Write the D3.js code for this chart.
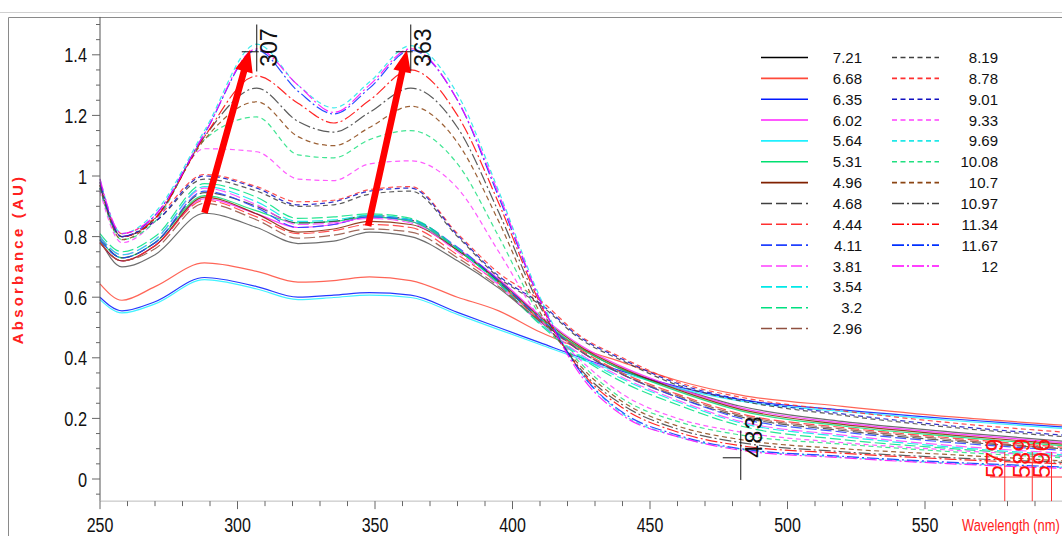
<!DOCTYPE html>
<html><head><meta charset="utf-8">
<script src="https://cdn.jsdelivr.net/npm/d3@7/dist/d3.min.js"></script>
<style>body{margin:0;background:#fff;overflow:hidden} svg{display:block}</style>
</head><body><svg id="c" width="1062" height="536"></svg>
<script>
// ---------- data ----------
const wavelengths = [250, 258, 270, 288, 307, 322, 335, 348, 363, 380, 395, 410, 425, 440, 460, 483, 520, 560, 600];

// acid / neutral side (solid)
const ph721 = [0.79, 0.70, 0.74, 0.877, 0.83, 0.777, 0.785, 0.815, 0.80, 0.72, 0.63, 0.52, 0.43, 0.36, 0.30, 0.24, 0.19, 0.155, 0.125];
const ph668 = [0.644, 0.59, 0.635, 0.713, 0.685, 0.65, 0.655, 0.667, 0.655, 0.60, 0.555, 0.485, 0.43, 0.385, 0.325, 0.277, 0.24, 0.205, 0.178];
const ph635 = [0.60, 0.555, 0.585, 0.665, 0.635, 0.60, 0.607, 0.615, 0.607, 0.55, 0.50, 0.45, 0.40, 0.355, 0.305, 0.262, 0.228, 0.198, 0.172];
const ph602 = [0.78, 0.72, 0.77, 0.925, 0.875, 0.83, 0.84, 0.865, 0.85, 0.76, 0.66, 0.54, 0.44, 0.37, 0.30, 0.235, 0.185, 0.15, 0.12];
const ph564 = [0.592, 0.548, 0.578, 0.658, 0.627, 0.592, 0.599, 0.607, 0.599, 0.543, 0.493, 0.444, 0.395, 0.35, 0.30, 0.257, 0.223, 0.193, 0.167];
const ph531 = [0.79, 0.73, 0.78, 0.935, 0.885, 0.845, 0.85, 0.865, 0.85, 0.755, 0.65, 0.53, 0.43, 0.36, 0.29, 0.225, 0.175, 0.14, 0.11];
const ph496 = [0.78, 0.72, 0.77, 0.93, 0.875, 0.815, 0.825, 0.85, 0.84, 0.755, 0.655, 0.535, 0.435, 0.365, 0.295, 0.23, 0.18, 0.145, 0.115];
// long dashed
const ph468 = [0.80, 0.73, 0.78, 0.945, 0.90, 0.845, 0.85, 0.87, 0.855, 0.76, 0.65, 0.525, 0.42, 0.345, 0.27, 0.205, 0.16, 0.125, 0.10];
const ph444 = [0.78, 0.72, 0.77, 0.92, 0.865, 0.81, 0.82, 0.84, 0.83, 0.74, 0.645, 0.525, 0.425, 0.35, 0.28, 0.215, 0.17, 0.135, 0.105];
const ph411 = [0.79, 0.73, 0.78, 0.95, 0.895, 0.83, 0.84, 0.865, 0.855, 0.765, 0.655, 0.53, 0.42, 0.345, 0.27, 0.20, 0.155, 0.12, 0.095];
const ph381 = [0.80, 0.74, 0.79, 0.96, 0.905, 0.84, 0.845, 0.86, 0.845, 0.75, 0.64, 0.515, 0.41, 0.335, 0.26, 0.19, 0.145, 0.11, 0.085];
const ph354 = [0.80, 0.74, 0.79, 0.965, 0.915, 0.85, 0.855, 0.87, 0.855, 0.76, 0.645, 0.515, 0.405, 0.33, 0.255, 0.185, 0.14, 0.105, 0.08];
const ph320 = [0.81, 0.75, 0.80, 0.975, 0.93, 0.86, 0.865, 0.875, 0.86, 0.76, 0.645, 0.51, 0.40, 0.32, 0.245, 0.175, 0.13, 0.10, 0.075];
const ph296 = [0.78, 0.72, 0.76, 0.91, 0.855, 0.795, 0.805, 0.825, 0.815, 0.73, 0.635, 0.52, 0.42, 0.345, 0.275, 0.21, 0.165, 0.13, 0.10];
// basic side (short dashed)
const ph819 = [0.96, 0.80, 0.85, 0.99, 0.95, 0.90, 0.905, 0.94, 0.95, 0.80, 0.665, 0.575, 0.46, 0.39, 0.31, 0.258, 0.21, 0.17, 0.14];
const ph878 = [0.97, 0.81, 0.86, 1.005, 0.965, 0.915, 0.92, 0.955, 0.965, 0.81, 0.68, 0.59, 0.47, 0.40, 0.32, 0.27, 0.225, 0.185, 0.155];
const ph901 = [0.96, 0.80, 0.85, 1.0, 0.96, 0.905, 0.915, 0.95, 0.96, 0.805, 0.67, 0.58, 0.465, 0.395, 0.315, 0.263, 0.215, 0.175, 0.145];
const ph933 = [0.95, 0.78, 0.85, 1.09, 1.08, 0.99, 0.985, 1.04, 1.05, 0.96, 0.75, 0.53, 0.39, 0.28, 0.20, 0.155, 0.12, 0.095, 0.075];
const ph969 = [0.99, 0.81, 0.88, 1.15, 1.435, 1.30, 1.225, 1.31, 1.43, 1.27, 0.95, 0.60, 0.35, 0.215, 0.14, 0.098, 0.072, 0.052, 0.038];
const ph1008 = [0.96, 0.79, 0.85, 1.12, 1.195, 1.07, 1.06, 1.12, 1.15, 1.04, 0.80, 0.54, 0.38, 0.265, 0.19, 0.145, 0.115, 0.09, 0.07];
const ph1070 = [0.97, 0.79, 0.86, 1.12, 1.245, 1.13, 1.10, 1.16, 1.23, 1.11, 0.85, 0.55, 0.37, 0.255, 0.175, 0.13, 0.10, 0.08, 0.06];
// dash-dot
const ph1097 = [0.97, 0.80, 0.86, 1.13, 1.29, 1.18, 1.145, 1.21, 1.29, 1.16, 0.88, 0.57, 0.36, 0.245, 0.165, 0.12, 0.09, 0.07, 0.055];
const ph1134 = [0.98, 0.80, 0.86, 1.13, 1.33, 1.24, 1.175, 1.25, 1.35, 1.20, 0.91, 0.58, 0.355, 0.235, 0.155, 0.11, 0.085, 0.065, 0.05];
const ph1167 = [0.98, 0.80, 0.87, 1.14, 1.415, 1.28, 1.205, 1.29, 1.415, 1.25, 0.93, 0.59, 0.35, 0.22, 0.145, 0.10, 0.075, 0.055, 0.04];
const ph1200 = [0.99, 0.81, 0.87, 1.14, 1.42, 1.30, 1.21, 1.30, 1.42, 1.25, 0.94, 0.59, 0.34, 0.21, 0.14, 0.095, 0.07, 0.05, 0.035];

const legendCol1 = ["7.21","6.68","6.35","6.02","5.64","5.31","4.96","4.68","4.44","4.11","3.81","3.54","3.2","2.96"];
const legendCol2 = ["8.19","8.78","9.01","9.33","9.69","10.08","10.7","10.97","11.34","11.67","12"];
const valuesCol1 = [ph721, ph668, ph635, ph602, ph564, ph531, ph496, ph468, ph444, ph411, ph381, ph354, ph320, ph296];
const valuesCol2 = [ph819, ph878, ph901, ph933, ph969, ph1008, ph1070, ph1097, ph1134, ph1167, ph1200];

const colorsCol1 = ["#000000","#ff4a3a","#0018ff","#ff20ff","#20f0ff","#00e070","#802000",
                    "#404040","#ff3030","#2040ff","#ff40ff","#00e8e8","#00e080","#905040"];
const colorsCol2 = ["#404040","#ff3030","#1010c0","#ff40ff","#20e8e8","#20e080","#8b4513",
                    "#404040","#ff0000","#0030ff","#ff00ff"];
const dashCol1 = ["","","","","","","", "11,4","11,4","11,4","11,4","11,4","11,4","11,4"];
const dashCol2 = ["5,3.5","5,3.5","5,3.5","5,3.5","5,3.5","5,3.5","5,3.5","12,3,2,3","12,3,2,3","12,3,2,3","12,3,2,3"];

const yTickValues = [0, 0.2, 0.4, 0.6, 0.8, 1, 1.2, 1.4];
const yTickLabels = ["0", "0.2", "0.4", "0.6", "0.8", "1", "1.2", "1.4"];
const xTickValues = [250, 300, 350, 400, 450, 500, 550];
const xTickLabels = ["250", "300", "350", "400", "450", "500", "550"];
const peakMarks = [307, 363];
const valleyMark = [483];
const redMarks = [579, 589, 596];
const arrowTails = [[288, 0.878], [347.5, 0.835]];
const arrowTips = [[304.5, 1.416], [361.6, 1.416]];

// ---------- drawing ----------
const svg = d3.select("#c");
const x = d3.scaleLinear().domain([250, 600]).range([100, 1062.5]);
const y = d3.scaleLinear().domain([0, 1.4]).range([479, 54.8]);
const sans = "'Liberation Sans',Arial,sans-serif";

// frame
svg.append("line").attr("x1",0).attr("x2",1062).attr("y1",12.5).attr("y2",12.5).attr("stroke","#d0d0d0");
svg.append("path").attr("d","M8.5,536V17.5H1062").attr("fill","none").attr("stroke","#8a8a8a");

// spectra
const series = [];
legendCol1.forEach((l,i)=>series.push({label:l, values:valuesCol1[i], color:colorsCol1[i], dash:dashCol1[i]}));
legendCol2.forEach((l,i)=>series.push({label:l, values:valuesCol2[i], color:colorsCol2[i], dash:dashCol2[i]}));

const line = d3.line().x(d=>x(d[0])).y(d=>y(d[1])).curve(d3.curveMonotoneX);
const plot = svg.append("g");
series.forEach(s=>{
  plot.append("path")
    .attr("d", line(wavelengths.map((w,i)=>[w, s.values[i]])))
    .attr("fill","none").attr("stroke", s.color === "#000000" ? "#555" : s.color)
    .attr("stroke-width", 1.2).attr("stroke-opacity", 0.85)
    .attr("stroke-dasharray", s.dash || null);
});

// condensed text helper (narrow face emulated by horizontal scaling)
function narrowText(g, tx, ty, str, size, anchor, fill, sx) {
  return g.append("text").attr("transform",`translate(${tx},${ty}) scale(${sx},1)`)
    .attr("text-anchor",anchor).attr("font-family",sans).attr("font-size",size).attr("fill",fill).text(str);
}

// y axis
const yAxisG = svg.append("g");
yAxisG.append("line").attr("x1",100).attr("x2",100).attr("y1",y(1.525)).attr("y2",y(-0.073)).attr("stroke","#555");
d3.range(-0.05, 1.5001, 0.05).forEach(v=>{
  const major = yTickValues.some(t=>Math.abs(t-v)<1e-6);
  yAxisG.append("line").attr("x1",100-(major?8:4)).attr("x2",100).attr("y1",y(v)).attr("y2",y(v)).attr("stroke","#666");
});
yTickValues.forEach((v,i)=>{
  narrowText(yAxisG, 87, y(v)+7.5, yTickLabels[i], 21, "end", "#111", 0.78);
});

// x axis
const xAxisG = svg.append("g");
const axisY = y(-0.073);
xAxisG.append("line").attr("x1",100).attr("x2",1062).attr("y1",axisY).attr("y2",axisY).attr("stroke","#bbb");
d3.range(250, 601, 10).forEach(v=>{
  const major = v % 50 === 0;
  xAxisG.append("line").attr("x1",x(v)).attr("x2",x(v)).attr("y1",axisY).attr("y2",axisY+(major?8:5)).attr("stroke","#666");
});
xTickValues.forEach((v,i)=>{
  narrowText(xAxisG, x(v), 532, xTickLabels[i], 20, "middle", "#111", 0.8);
});

// axis titles
svg.append("text").attr("transform","translate(23,259) rotate(-90)").attr("text-anchor","middle")
  .attr("font-family",sans).attr("font-size",15).attr("font-weight","bold")
  .attr("letter-spacing",3.2).attr("fill","#ff2020").text("Absorbance (AU)");
narrowText(svg, 962, 531, "Wavelength (nm)", 17, "start", "#ff2020", 0.76);

// peak markers
peakMarks.forEach(p=>{
  const px = x(p);
  svg.append("line").attr("x1",px-15).attr("x2",px+2).attr("y1",y(1.41)).attr("y2",y(1.41)).attr("stroke","#111");
  svg.append("line").attr("x1",px).attr("x2",px).attr("y1",y(1.50)).attr("y2",y(1.345)).attr("stroke","#111");
  svg.append("text").attr("transform",`translate(${px+20},${y(1.41)+15}) rotate(-90)`)
    .attr("font-family",sans).attr("font-size",23).attr("fill","#111").text(String(p));
});
valleyMark.forEach(p=>{
  const px = x(p);
  svg.append("line").attr("x1",px-18).attr("x2",px).attr("y1",y(0.07)).attr("y2",y(0.07)).attr("stroke","#111");
  svg.append("line").attr("x1",px).attr("x2",px).attr("y1",y(0.16)).attr("y2",y(-0.003)).attr("stroke","#111");
  svg.append("text").attr("transform",`translate(${px+21},${y(0.07)}) rotate(-90)`)
    .attr("font-family",sans).attr("font-size",23).attr("letter-spacing",1.5).attr("fill","#111").text(String(p));
});
// red markers
svg.append("line").attr("x1",990).attr("x2",1062).attr("y1",477).attr("y2",477).attr("stroke","#ff3030");
redMarks.forEach(p=>{
  const px = x(p);
  svg.append("line").attr("x1",px).attr("x2",px).attr("y1",452).attr("y2",axisY).attr("stroke","#ff3030");
  svg.append("text").attr("transform",`translate(${px-2},478) rotate(-90)`)
    .attr("font-family",sans).attr("font-size",23).attr("letter-spacing",0.5).attr("fill","#ff1010").text(String(p));
});

// arrows
arrowTails.forEach((t,i)=>{
  const x0 = x(t[0]), y0 = y(t[1]), x1 = x(arrowTips[i][0]), y1 = y(arrowTips[i][1]);
  const dx = x1-x0, dy = y1-y0, L = Math.hypot(dx,dy), ux = dx/L, uy = dy/L, nx = -uy, ny = ux;
  const hl = 22, hw = 9, sw = 3.3;
  const bx = x1-ux*hl, by = y1-uy*hl;
  const pts = [[x0+nx*sw,y0+ny*sw],[bx+nx*sw,by+ny*sw],[bx+nx*hw,by+ny*hw],[x1,y1],[bx-nx*hw,by-ny*hw],[bx-nx*sw,by-ny*sw],[x0-nx*sw,y0-ny*sw]];
  svg.append("path").attr("d","M"+pts.map(p=>p.join(",")).join("L")+"Z").attr("fill","#ff0000");
});

// legend
const legend = svg.append("g");
const rowH = 20.85;
function legendCol(labels, colors, dashes, lx, tx) {
  labels.forEach((l,i)=>{
    const ly = 57.5 + i*rowH;
    legend.append("line").attr("x1",lx).attr("x2",lx+47).attr("y1",ly).attr("y2",ly)
      .attr("stroke",colors[i]).attr("stroke-width",1.6).attr("stroke-dasharray",dashes[i]||null);
    legend.append("text").attr("x",tx).attr("y",ly+5.5).attr("text-anchor","end")
      .attr("font-family",sans).attr("font-size",15).attr("fill","#111").text(l);
  });
}
legendCol(legendCol1, colorsCol1, dashCol1, 761, 862);
legendCol(legendCol2, colorsCol2, dashCol2, 892, 998);
</script></body></html>
